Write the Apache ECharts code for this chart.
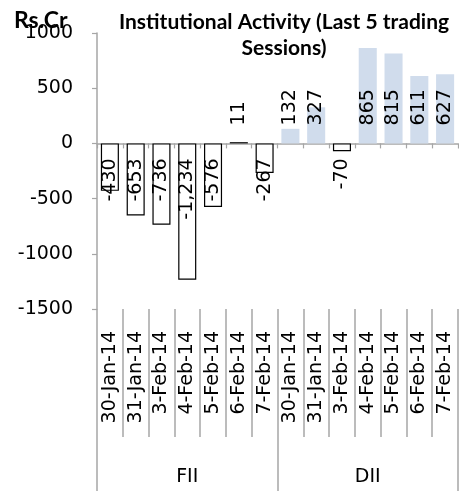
<!DOCTYPE html>
<html>
<head>
<meta charset="utf-8">
<script src="https://cdn.jsdelivr.net/npm/echarts@6/dist/echarts.min.js"></script>
<style>
html,body{margin:0;padding:0;background:#fff;}
#c{width:459px;height:491px;}
</style>
</head>
<body>
<div id="c"></div>
<script>
var dates = ['30-Jan-14','31-Jan-14','3-Feb-14','4-Feb-14','5-Feb-14','6-Feb-14','7-Feb-14'];
var groups = ['FII','DII'];
var fiiValues = [-430, -653, -736, -1234, -576, 11, -267];
var diiValues = [132, 327, -70, 865, 815, 611, 627];
var yTicks = {min: -1500, max: 1000, interval: 500};

var categories = dates.concat(dates);
var FONT = 'DejaVu Sans';
var GRID = {left: 97, right: 1, top: 33, bottom: 182};
var AXIS_GRAY = '#a6a6a6';

function labelFor(v) {
  if (v < 0) return {position: 'insideTop', distance: 15, align: 'right', verticalAlign: 'middle'};
  return {position: 'insideBottom', distance: 18, align: 'left', verticalAlign: 'middle'};
}
function blanks(n){ var a=[]; for (var i=0;i<n;i++) a.push('-'); return a; }

var fiiData = fiiValues.map(function(v){ return {value: v, label: labelFor(v)}; }).concat(blanks(dates.length));
var diiData = blanks(dates.length).concat(diiValues.map(function(v){
  var o = {value: v, label: labelFor(v)};
  if (v < 0) o.itemStyle = {color: '#ffffff', borderColor: '#000000', borderWidth: 1.2};
  return o;
}));

var labelBase = {
  show: true, rotate: 90, fontFamily: FONT, fontSize: 19, color: '#000',
  formatter: function(p){ return Number(p.value).toLocaleString('en-US'); }
};

var chart = echarts.init(document.getElementById('c'), null, {renderer: 'canvas'});
chart.setOption({
  animation: false,
  backgroundColor: '#ffffff',
  grid: [
    Object.assign({}, GRID),
    Object.assign({}, GRID),
    Object.assign({}, GRID)
  ],
  xAxis: [
    {
      type: 'category', gridIndex: 0, data: categories, boundaryGap: true,
      axisLine: {show: true, onZero: true, lineStyle: {color: AXIS_GRAY, width: 1.5}},
      axisTick: {show: true, interval: 0, length: 5, lineStyle: {color: AXIS_GRAY, width: 1.2}},
      axisLabel: {show: false}, splitLine: {show: false}
    },
    {
      type: 'category', gridIndex: 1, data: categories, boundaryGap: true, position: 'bottom',
      axisLine: {show: false, onZero: false},
      axisTick: {show: true, interval: 0, length: 128, lineStyle: {color: AXIS_GRAY, width: 1.5}},
      axisLabel: {show: true, interval: 0, rotate: 90, margin: 22, fontFamily: FONT, fontSize: 19, color: '#000'},
      splitLine: {show: false}
    },
    {
      type: 'category', gridIndex: 2, data: groups, boundaryGap: true, position: 'bottom',
      axisLine: {show: false, onZero: false},
      axisTick: {show: true, interval: 0, length: 182, lineStyle: {color: AXIS_GRAY, width: 1.5}},
      axisLabel: {show: true, interval: 0, margin: 159, fontFamily: FONT, fontSize: 19, color: '#000'},
      splitLine: {show: false}
    }
  ],
  yAxis: [
    {
      type: 'value', gridIndex: 0, min: yTicks.min, max: yTicks.max, interval: yTicks.interval,
      axisLine: {show: true, lineStyle: {color: AXIS_GRAY, width: 1.5}},
      axisTick: {show: true, length: 5, lineStyle: {color: AXIS_GRAY, width: 1.2}},
      axisLabel: {margin: 24, fontFamily: FONT, fontSize: 19, color: '#000',
        formatter: function(v){ return String(v); }},
      splitLine: {show: false}
    },
    {type: 'value', gridIndex: 1, show: false, min: 0, max: 1},
    {type: 'value', gridIndex: 2, show: false, min: 0, max: 1}
  ],
  series: [
    {
      name: 'FII', type: 'bar', xAxisIndex: 0, yAxisIndex: 0, data: fiiData,
      barWidth: '70%', barGap: '-100%',
      itemStyle: {color: '#ffffff', borderColor: '#000000', borderWidth: 1.2},
      label: labelBase
    },
    {
      name: 'DII', type: 'bar', xAxisIndex: 0, yAxisIndex: 0, data: diiData,
      barWidth: '70%', barGap: '-100%',
      itemStyle: {color: '#d0dcec'},
      label: labelBase
    }
  ],
  graphic: [
    {type: 'text', left: 14, top: 9, style: {text: 'Rs.Cr', font: 'bold 23px Lato', fill: '#000'}},
    {type: 'text', x: 284, y: 22, style: {text: 'Institutional Activity (Last 5 trading', font: 'bold 21px Lato', fill: '#000', align: 'center', verticalAlign: 'middle'}},
    {type: 'text', x: 284, y: 48, style: {text: 'Sessions)', font: 'bold 21px Lato', fill: '#000', align: 'center', verticalAlign: 'middle'}}
  ]
});
</script>
</body>
</html>
